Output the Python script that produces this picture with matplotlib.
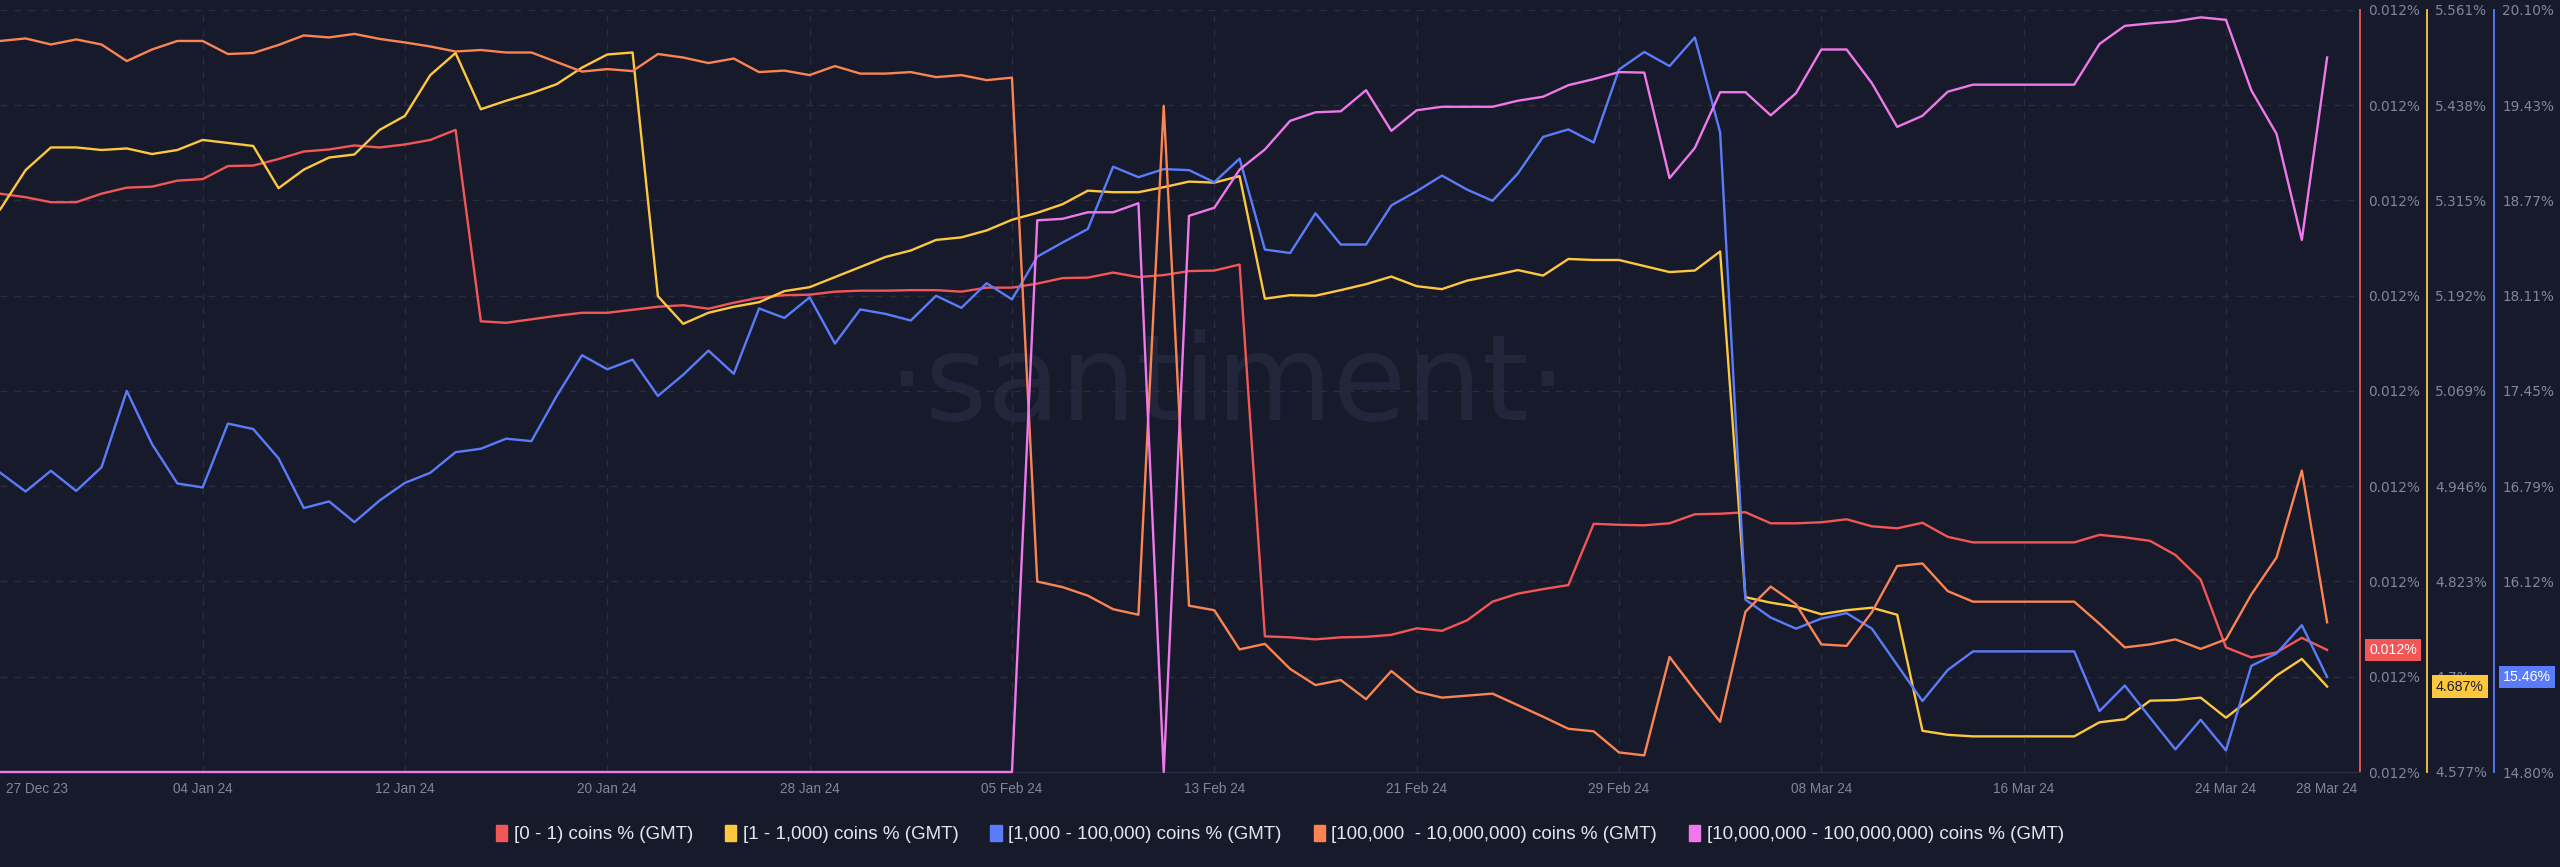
import numpy as np
import pandas as pd
import matplotlib
matplotlib.use("Agg")
import matplotlib.pyplot as plt
from matplotlib.patches import Patch
from matplotlib.transforms import offset_copy

# daily values, 27 Dec 23 .. 28 Mar 24
dates = pd.date_range("2023-12-27", "2024-03-28", freq="D")

coins_0_1 = [
    0.012217, 0.0122135, 0.0122085, 0.0122085, 0.012217, 0.012223, 0.012224, 0.01223, 0.0122315, 0.0122445,
    0.012245, 0.0122515, 0.012259, 0.012261, 0.012265, 0.012263, 0.012266, 0.0122705, 0.0122805, 0.01209,
    0.0120885, 0.012092, 0.0120955, 0.0120985, 0.0120985, 0.0121015, 0.0121045, 0.012106, 0.0121025, 0.0121085,
    0.0121135, 0.012116, 0.0121165, 0.0121195, 0.0121205, 0.0121205, 0.012121, 0.012121, 0.0121195, 0.0121235,
    0.0121235, 0.0121275, 0.012133, 0.0121335, 0.0121385, 0.012134, 0.012136, 0.01214, 0.0121405, 0.0121465,
    0.0117765, 0.0117755, 0.0117735, 0.0117755, 0.011776, 0.011778, 0.0117845, 0.011782, 0.0117925, 0.011811,
    0.011819, 0.0118235, 0.0118275, 0.0118885, 0.0118875, 0.011887, 0.011889, 0.011898, 0.0118985, 0.0119,
    0.011889, 0.011889, 0.01189, 0.011893, 0.011886, 0.011884, 0.0118895, 0.0118755, 0.01187, 0.01187,
    0.01187, 0.01187, 0.01187, 0.0118775, 0.011875, 0.0118715, 0.0118575, 0.011833, 0.0117655, 0.0117555,
    0.0117605, 0.011775, 0.011763,
]

coins_1_1k = [
    5.3035, 5.3541, 5.3833, 5.3833, 5.3800, 5.3820, 5.3748, 5.3800, 5.3930, 5.3891,
    5.3852, 5.3307, 5.3547, 5.3703, 5.3742, 5.4060, 5.4241, 5.4767, 5.5052, 5.4326,
    5.4436, 5.4533, 5.4650, 5.4864, 5.5033, 5.5059, 5.1913, 5.1556, 5.1699, 5.1776,
    5.1835, 5.1978, 5.2029, 5.2159, 5.2289, 5.2419, 5.2503, 5.2639, 5.2672, 5.2762,
    5.2899, 5.2989, 5.3100, 5.3275, 5.3255, 5.3255, 5.3320, 5.3392, 5.3379, 5.3463,
    5.1880, 5.1926, 5.1919, 5.1991, 5.2068, 5.2166, 5.2042, 5.2004, 5.2114, 5.2179,
    5.2250, 5.2179, 5.2393, 5.2380, 5.2380, 5.2302, 5.2224, 5.2244, 5.2490, 4.8027,
    4.7956, 4.7904, 4.7807, 4.7859, 4.7891, 4.7800, 4.6302, 4.6250, 4.6230, 4.6230,
    4.6230, 4.6230, 4.6230, 4.6412, 4.6451, 4.6691, 4.6698, 4.6730, 4.6471, 4.6723,
    4.7015, 4.7229, 4.6873,
]

coins_1k_100k = [
    16.879, 16.749, 16.893, 16.753, 16.917, 17.448, 17.078, 16.805, 16.777, 17.221,
    17.183, 16.980, 16.634, 16.680, 16.536, 16.687, 16.809, 16.879, 17.022, 17.046,
    17.116, 17.099, 17.413, 17.696, 17.598, 17.665, 17.413, 17.560, 17.728, 17.567,
    18.021, 17.955, 18.098, 17.777, 18.014, 17.983, 17.937, 18.109, 18.025, 18.196,
    18.084, 18.381, 18.479, 18.573, 19.006, 18.933, 18.989, 18.982, 18.898, 19.062,
    18.430, 18.406, 18.682, 18.465, 18.465, 18.737, 18.835, 18.944, 18.846, 18.769,
    18.958, 19.213, 19.265, 19.174, 19.681, 19.803, 19.705, 19.904, 19.244, 15.998,
    15.873, 15.796, 15.866, 15.904, 15.796, 15.544, 15.293, 15.509, 15.638, 15.638,
    15.638, 15.638, 15.638, 15.223, 15.401, 15.177, 14.957, 15.163, 14.950, 15.537,
    15.624, 15.820, 15.460,
]

coins_100k_10m = [
    55.38, 55.43, 55.31, 55.41, 55.31, 54.98, 55.21, 55.38, 55.38, 55.12,
    55.14, 55.30, 55.49, 55.45, 55.52, 55.42, 55.35, 55.27, 55.17, 55.20,
    55.15, 55.15, 54.96, 54.77, 54.82, 54.78, 55.12, 55.05, 54.94, 55.03,
    54.76, 54.79, 54.70, 54.88, 54.73, 54.73, 54.76, 54.66, 54.70, 54.60,
    54.65, 44.62, 44.51, 44.34, 44.07, 43.96, 54.09, 44.14, 44.05, 43.27,
    43.38, 42.88, 42.56, 42.66, 42.28, 42.84, 42.43, 42.31, 42.35, 42.39,
    42.16, 41.93, 41.69, 41.64, 41.22, 41.16, 43.12, 42.46, 41.83, 44.02,
    44.52, 44.17, 43.37, 43.34, 44.01, 44.93, 44.98, 44.43, 44.22, 44.22,
    44.22, 44.22, 44.22, 43.78, 43.31, 43.37, 43.47, 43.28, 43.47, 44.36,
    45.10, 46.83, 43.81,
]

coins_10m_100m = [
    0, 0, 0, 0, 0, 0, 0, 0, 0, 0,
    0, 0, 0, 0, 0, 0, 0, 0, 0, 0,
    0, 0, 0, 0, 0, 0, 0, 0, 0, 0,
    0, 0, 0, 0, 0, 0, 0, 0, 0, 0,
    0, 10.98, 11.01, 11.14, 11.14, 11.32, 0, 11.07, 11.23, 11.99,
    12.39, 12.96, 13.13, 13.15, 13.57, 12.76, 13.17, 13.24, 13.24, 13.24,
    13.36, 13.44, 13.67, 13.79, 13.93, 13.92, 11.82, 12.42, 13.53, 13.53,
    13.07, 13.51, 14.38, 14.38, 13.71, 12.84, 13.06, 13.54, 13.68, 13.68,
    13.68, 13.68, 13.68, 14.49, 14.85, 14.90, 14.94, 15.02, 14.97, 13.57,
    12.70, 10.59, 14.22,
]

labels = [
    "[0 - 1) coins % (GMT)",
    "[1 - 1,000) coins % (GMT)",
    "[1,000 - 100,000) coins % (GMT)",
    "[100,000  - 10,000,000) coins % (GMT)",
    "[10,000,000 - 100,000,000) coins % (GMT)",
]

RED, YELLOW, BLUE, ORANGE, PINK = "#f35656", "#fdc83e", "#5b7cfa", "#fa8452", "#ef79ea"
BG = "#171a2a"
GRID = "#2a2d40"
TICK = "#80869b"
font = "Liberation Sans"

fig = plt.figure(figsize=(25.6, 8.67), dpi=100, facecolor=BG)
ax = fig.add_axes([0.0, 1 - 772 / 867, 2360 / 2560, (772 - 9.8) / 867])
ax.set_facecolor(BG)
ax_y = ax.twinx()
ax_b = ax.twinx()
ax_o = ax.twinx()
ax_p = ax.twinx()

# watermark
ax.text(0.52, 0.505, "\u00b7santiment\u00b7", transform=ax.transAxes, ha="center", va="center",
        fontsize=86, color="#22263b", family="DejaVu Sans", zorder=0)

x0 = dates[0] - pd.Timedelta(hours=0.3)
x1 = dates[0] + pd.Timedelta(days=93.3)

limits = {
    "red": (0.0116415, 0.0124),
    "yellow": (4.577, 5.561),
    "blue": (14.80, 20.096),
    "orange": (40.83, 56.0),
    "pink": (0.0, 15.17),
}

ax.plot(dates, coins_0_1, color=RED, lw=1.7)
ax_y.plot(dates, coins_1_1k, color=YELLOW, lw=1.7)
ax_b.plot(dates, coins_1k_100k, color=BLUE, lw=1.7)
ax_o.plot(dates, coins_100k_10m, color=ORANGE, lw=1.7)
ax_p.plot(dates, coins_10m_100m, color=PINK, lw=1.7, clip_on=False)

ax.set_ylim(*limits["red"])
ax_y.set_ylim(*limits["yellow"])
ax_b.set_ylim(*limits["blue"])
ax_o.set_ylim(*limits["orange"])
ax_p.set_ylim(*limits["pink"])
for a in (ax, ax_y, ax_b, ax_o, ax_p):
    a.set_xlim(x0, x1)

for a in (ax_o, ax_p):
    a.axis("off")


def trim(v, d):
    s = f"{v:.{d}f}"
    if "." in s:
        s = s.rstrip("0").rstrip(".")
    return s + "%"


# right axes
for a, key, col, off, fmt in [
    (ax, "red", RED, 0, lambda v: trim(v, 3)),
    (ax_y, "yellow", YELLOW, 67 * 0.72, lambda v: trim(v, 3)),
    (ax_b, "blue", BLUE, 134 * 0.72, lambda v: f"{v:.2f}%"),
]:
    lo, hi = limits[key]
    ticks = np.linspace(lo, hi, 9)
    a.yaxis.tick_right()
    a.set_yticks(ticks)
    a.set_yticklabels([fmt(t) for t in ticks])
    a.tick_params(axis="y", length=0, pad=6, labelsize=9.8, labelcolor=TICK)
    for lab in a.get_yticklabels():
        lab.set_family(font)
    for s in ("top", "left", "bottom"):
        a.spines[s].set_visible(False)
    a.spines["right"].set_color(col)
    a.spines["right"].set_linewidth(1.3)
    a.spines["right"].set_position(("outward", off))

ax.spines["bottom"].set_visible(True)
ax.spines["bottom"].set_color("#2c2f43")

# grid
for t in np.linspace(*limits["red"], 9):
    ax.axhline(t, color=GRID, lw=1, ls=(0, (5, 5)), zorder=0)
xt = list(dates[::8]) + [dates[-1]]
for t in dates[8::8]:
    ax.axvline(t, color=GRID, lw=1, ls=(0, (5, 5)), zorder=0)

ax.set_xticks(xt)
ax.set_xticklabels([d.strftime("%d %b %y") for d in xt])
ax.tick_params(axis="x", length=0, pad=7, labelsize=9.8, labelcolor=TICK)
for a in (ax_y, ax_b):
    a.tick_params(axis="x", bottom=False, labelbottom=False)
xl = ax.get_xticklabels()
for lab in xl:
    lab.set_family(font)
xl[0].set_ha("left")
xl[0].set_transform(offset_copy(xl[0].get_transform(), fig=fig, x=6, y=0, units="dots"))

# last value badges
for a, vals, col, tc, off, txt in [
    (ax, coins_0_1, RED, "white", 0, f"{coins_0_1[-1]:.3f}%"),
    (ax_y, coins_1_1k, YELLOW, "#1b1d2a", 67, f"{coins_1_1k[-1]:.3f}%"),
    (ax_b, coins_1k_100k, BLUE, "white", 134, f"{coins_1k_100k[-1]:.2f}%"),
]:
    a.annotate(txt, xy=(1, vals[-1]), xycoords=("axes fraction", "data"),
               xytext=((off + 9) * 0.72, 0), textcoords="offset points",
               ha="left", va="center", fontsize=10.2, family=font, color=tc,
               bbox=dict(boxstyle="square,pad=0.3", fc=col, ec="none"),
               annotation_clip=False, zorder=10)

handles = [Patch(color=c) for c in (RED, YELLOW, BLUE, ORANGE, PINK)]
fig.legend(handles, labels, loc="center", bbox_to_anchor=(0.5, 1 - 834 / 867), ncol=5,
           frameon=False, handlelength=0.6, handleheight=1.0,
           handletextpad=0.35, columnspacing=1.7, labelcolor="#e4e6ee",
           prop={"family": font, "size": 13.5})

fig.savefig("out.png", dpi=100, facecolor=BG)
